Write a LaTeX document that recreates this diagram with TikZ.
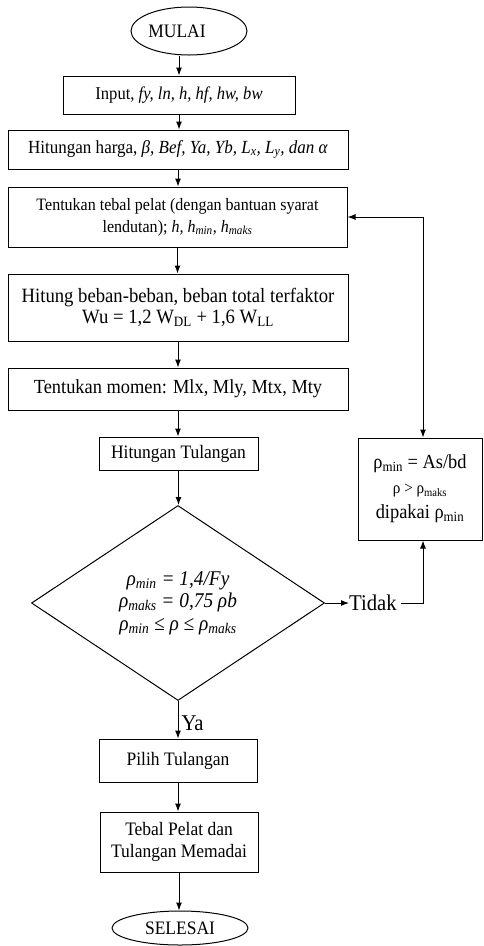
\documentclass[tikz,border=0pt]{standalone}
\usepackage{fontspec}
\setmainfont[FakeStretch=0.92]{Liberation Serif}
\usetikzlibrary{arrows.meta,shapes.geometric}
\begin{document}
\begin{tikzpicture}[x=1pt,y=-1pt,
  box/.style={draw,line width=1pt,rectangle,inner sep=0pt,align=center,font=\fontsize{19}{22}\selectfont},
  term/.style={draw,line width=1pt,ellipse,inner sep=0pt,font=\fontsize{19}{22}\selectfont},
  dia/.style={draw,line width=1pt,diamond,inner sep=0pt,align=center,font=\fontsize{21}{22.5}\selectfont\itshape},
  arr/.style={line width=1pt,-{Latex[length=8pt,width=6pt]}},
  lbl/.style={inner sep=0pt,font=\fontsize{22.5}{22}\selectfont}]
\useasboundingbox (0,0) rectangle (484,946);
% nodes
\node[term,minimum width=116pt,minimum height=48pt] (start) at (189,31) {MULAI\hspace*{24pt}};
\node[box,minimum width=232pt,minimum height=38pt,font=\fontsize{18}{22}\selectfont] (input) at (179,95)
  {Input, \textit{fy, ln, h, hf, hw, bw}};
\node[box,minimum width=340pt,minimum height=39pt,font=\fontsize{18.5}{22}\selectfont] (harga) at (178,149.5)
  {Hitungan harga, \textit{β, Bef, Ya, Yb, L\textsubscript{x}, L\textsubscript{y}, dan α}};
\node[box,minimum width=339pt,minimum height=60pt,font=\fontsize{17.4}{22}\selectfont] (tebal) at (177.5,217)
  {Tentukan tebal pelat (dengan bantuan syarat\\lendutan); \textit{h, h\textsubscript{min}, h\textsubscript{maks}}};
\node[box,minimum width=340pt,minimum height=67pt,font=\fontsize{20.3}{21}\selectfont] (beban) at (178,307.5)
  {Hitung beban-beban, beban total terfaktor\\Wu = 1,2 W\textsubscript{DL} + 1,6 W\textsubscript{LL}};
\node[box,minimum width=340pt,minimum height=42pt,font=\fontsize{20}{22}\selectfont] (momen) at (178,389)
  {Tentukan momen: Mlx, Mly, Mtx, Mty};
\node[box,minimum width=159pt,minimum height=33pt] (tul) at (178.5,453.5) {Hitungan Tulangan};
\node[dia,minimum width=293pt,minimum height=195pt] (dec) at (178,603)
  {ρ\textsubscript{min} = 1,4/Fy\\ρ\textsubscript{maks} = 0,75 ρb\\ρ\textsubscript{min} ≤ ρ ≤ ρ\textsubscript{maks}};
\node[box,minimum width=124pt,minimum height=102pt,font=\fontsize{20}{25}\selectfont] (rho) at (420,489)
  {ρ\textsubscript{min} = As/bd\\{\fontsize{16.5}{25}\selectfont ρ > ρ\textsubscript{maks}}\\dipakai ρ\textsubscript{min}};
\node[lbl,anchor=west] (tidak) at (349,603) {Tidak};
\node[box,minimum width=158pt,minimum height=43pt] (pilih) at (178,760.5) {Pilih Tulangan};
\node[box,minimum width=158pt,minimum height=60pt] (mem) at (179,842) {Tebal Pelat dan\\Tulangan Memadai};
\node[term,minimum width=136pt,minimum height=34pt] (end) at (180,928) {SELESAI};
\coordinate (j) at (423,217);
\coordinate (k) at (423,603);
% connectors
\draw[arr] (start.south -| input.north) -- (input.north);
\draw[arr] (input.south) -- (input.south |- harga.north);
\draw[arr] (harga.south) -- (harga.south |- tebal.north);
\draw[arr] (tebal.south) -- (tebal.south |- beban.north);
\draw[arr] (beban.south) -- (beban.south |- momen.north);
\draw[arr] (momen.south) -- (momen.south |- tul.north);
\draw[arr] (tul.south) -- (tul.south |- dec.north);
\draw[arr] (dec.south) -- node[lbl,anchor=west,pos=0.6,xshift=3pt] (ya) {Ya} (dec.south |- pilih.north);
\draw[arr] (pilih.south) -- (pilih.south |- mem.north);
\draw[arr] (mem.south) -- (mem.south |- end.north);
\draw[arr] (dec.east) -- (tidak.west);
\draw[arr] (tidak.east) ++(4pt,0) -- (k) -- (k |- rho.south);
\draw[arr] (j) -- (tebal.east);
\draw[arr] (j) -- (j |- rho.north);
\end{tikzpicture}
\end{document}
